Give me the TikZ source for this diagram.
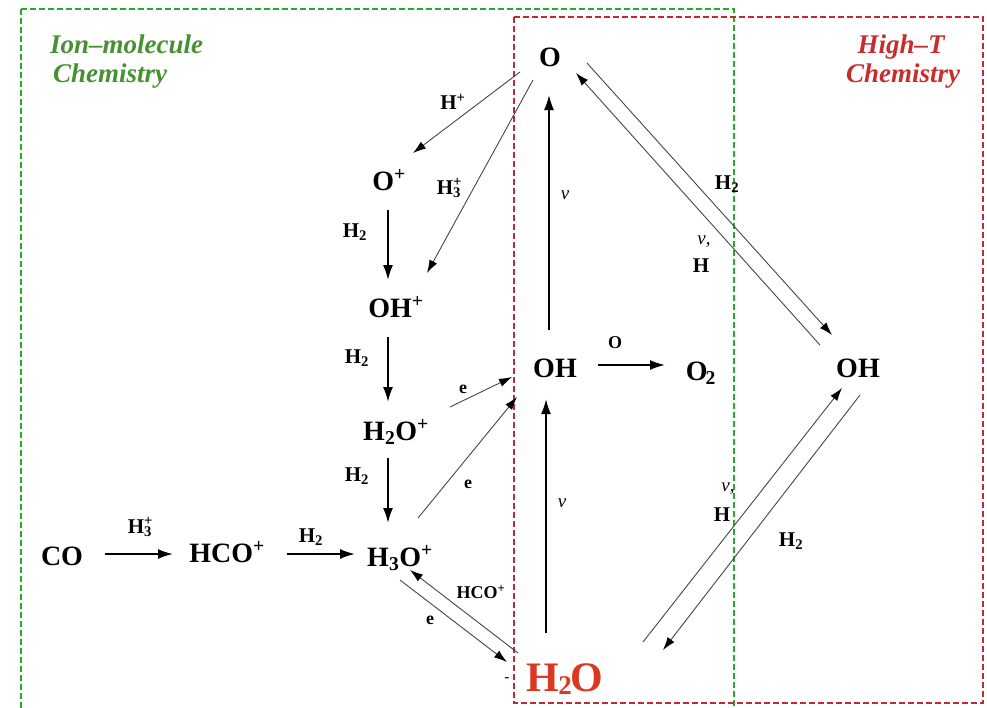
\documentclass[tikz,border=0pt]{standalone}
\usepackage{fontspec}
\setmainfont{Liberation Serif}
\usetikzlibrary{arrows.meta}
\definecolor{boxgreen}{RGB}{40,170,40}
\definecolor{txtgreen}{RGB}{70,145,50}
\definecolor{boxred}{RGB}{185,45,55}
\definecolor{txtred}{RGB}{200,45,45}
\definecolor{waterred}{RGB}{220,55,35}
\definecolor{thingray}{RGB}{70,70,70}
\newcommand{\supsub}[2]{\rlap{\textsuperscript{#1}}\textsubscript{#2}}
\tikzset{
  species/.style={font=\fontsize{28}{30}\selectfont\bfseries, inner sep=0pt, anchor=base},
  lbl/.style={font=\fontsize{21}{23}\selectfont\bfseries, inner sep=0pt},
  smalllbl/.style={font=\fontsize{18}{20}\selectfont\bfseries, inner sep=0pt},
  nulbl/.style={font=\fontsize{19}{21}\selectfont\itshape, inner sep=0pt},
  title/.style={font=\fontsize{27}{29}\selectfont\bfseries\itshape, inner sep=0pt},
  thickarr/.style={line width=1.8pt, -{Latex[length=15pt,width=10pt]}},
  thinarr/.style={line width=0.9pt, thingray, -{Latex[length=13pt,width=8.5pt,color=black]}},
  regionbox/.style={line width=1.3pt, dash pattern=on 6pt off 3pt}
}
\begin{document}
\begin{tikzpicture}[x=1pt,y=-1pt]
\useasboundingbox (0,0) rectangle (987,707);
% region boxes
\draw[regionbox, boxgreen] (21,9) rectangle (734,712);
\draw[regionbox, boxred] (514,17) rectangle (983,703);
% titles
\node[title, text=txtgreen, anchor=base west] (ttl1a) at (50,53) {Ion--molecule};
\node[title, text=txtgreen, anchor=base west] (ttl1b) at (53,82) {Chemistry};
\node[title, text=txtred, anchor=base] (ttl2a) at (901,53) {High--\textit{T}};
\node[title, text=txtred, anchor=base] (ttl2b) at (903,82) {Chemistry};
% species
\node[species] (O) at (550,66) {O};
\node[species] (Op) at (389,190) {O\textsuperscript{+}};
\node[species] (OHp) at (396,317) {OH\textsuperscript{+}};
\node[species] (H2Op) at (396,440) {H\textsubscript{2}O\textsuperscript{+}};
\node[species] (H3Op) at (400,566) {H\textsubscript{3}O\textsuperscript{+}};
\node[species] (CO) at (62,565) {CO};
\node[species] (HCOp) at (227,562) {HCO\textsuperscript{+}};
\node[species] (OHm) at (555,377) {OH};
\node[species] (O2) at (701,380) {O\kern-2pt\textsubscript{2}};
\node[species] (OHr) at (858,377) {OH};
\node[species, font=\fontsize{42}{44}\selectfont\bfseries, text=waterred] (H2O) at (565,691) {H\kern-1pt\raisebox{-3pt}{\fontsize{27}{27}\selectfont 2}\kern-1pt O};
\node[inner sep=0pt, font=\fontsize{14}{14}\selectfont\bfseries] (dash) at (507,680) {-};
% labels
\node[lbl] (lHp) at (453,102) {H\textsuperscript{+}};
\node[lbl] (lH3p) at (449,188) {H\supsub{+}{3}};
\node[lbl] (lH2a) at (355,232) {H\textsubscript{2}};
\node[lbl] (lH2b) at (357,358) {H\textsubscript{2}};
\node[lbl] (lH2c) at (357,476) {H\textsubscript{2}};
\node[lbl] (lH3pb) at (140,527) {H\supsub{+}{3}};
\node[lbl] (lH2d) at (311,537) {H\textsubscript{2}};
\node[smalllbl] (le1) at (463,389) {e};
\node[smalllbl] (le2) at (468,484) {e};
\node[smalllbl] (le3) at (430,620) {e};
\node[smalllbl] (lHCOp) at (481,592) {HCO\textsuperscript{+}};
\node[nulbl] (lnu1) at (565,195) {ν};
\node[nulbl] (lnu2) at (562,503) {ν};
\node[smalllbl] (lO) at (615,343) {O};
\node[lbl] (lH2e) at (727,184) {H\textsubscript{2}};
\node[nulbl] (lnu3) at (704,242) {ν,};
\node[lbl] (lH3) at (701,266) {H};
\node[nulbl] (lnu4) at (728,489) {ν,};
\node[lbl] (lH4) at (722,515) {H};
\node[lbl] (lH2f) at (791,541) {H\textsubscript{2}};
% ion-molecule connectors
\draw[thinarr] ([shift={(-30,6)}]O.base) -- ([shift={(24,-37)}]Op.base);
\draw[thinarr] ([shift={(-17,14)}]O.base) -- ([shift={(31,-44)}]OHp.base);
\draw[thickarr] ([shift={(-1,20)}]Op.base) -- ([shift={(-8,-37)}]OHp.base);
\draw[thickarr] ([shift={(-8,20)}]OHp.base) -- ([shift={(-8,-38)}]H2Op.base);
\draw[thickarr] ([shift={(-8,18)}]H2Op.base) -- ([shift={(-12,-43)}]H3Op.base);
\draw[thickarr] ([shift={(43,-11)}]CO.base) -- ([shift={(-54,-8)}]HCOp.base);
\draw[thickarr] ([shift={(60,-8)}]HCOp.base) -- ([shift={(-45,-12)}]H3Op.base);
\draw[thinarr] ([shift={(54,-33)}]H2Op.base) -- ([shift={(-43,0)}]OHm.base);
\draw[thinarr] ([shift={(18,-48)}]H3Op.base) -- ([shift={(-38,20)}]OHm.base);
\draw[thinarr] ([shift={(-47,-38)}]H2O.base) -- ([shift={(10,4)}]H3Op.base);
\draw[thinarr] ([shift={(0,14)}]H3Op.base) -- ([shift={(-58,-29)}]H2O.base);
% high-T / photo connectors
\draw[thickarr] ([shift={(-19,-58)}]H2O.base) -- ([shift={(-9,22)}]OHm.base);
\draw[thickarr] ([shift={(-6,-47)}]OHm.base) -- ([shift={(-1,29)}]O.base);
\draw[thickarr] ([shift={(43,-12)}]OHm.base) -- ([shift={(-36,-15)}]O2.base);
\draw[thinarr] ([shift={(37,-3)}]O.base) -- ([shift={(-26,-42)}]OHr.base);
\draw[thinarr] ([shift={(-38,-32)}]OHr.base) -- ([shift={(26,7)}]O.base);
\draw[thinarr] ([shift={(78,-49)}]H2O.base) -- ([shift={(-16,11)}]OHr.base);
\draw[thinarr] ([shift={(2,18)}]OHr.base) -- ([shift={(98,-41)}]H2O.base);
\end{tikzpicture}
\end{document}
